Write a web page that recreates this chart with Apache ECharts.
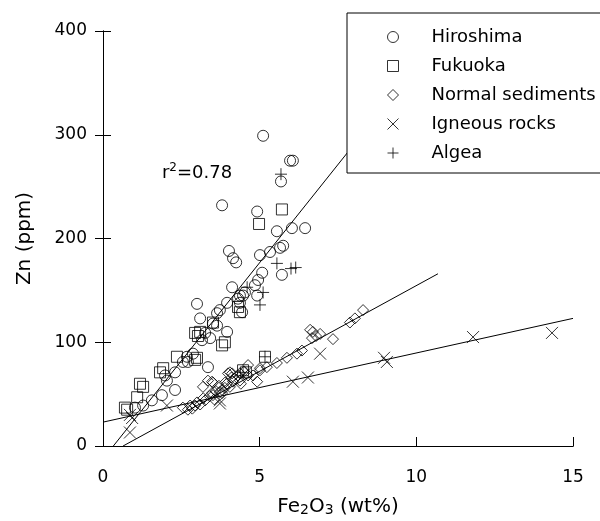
<!DOCTYPE html>
<html>
<head>
<meta charset="utf-8">
<script src="https://cdn.jsdelivr.net/npm/echarts@6/dist/echarts.min.js"></script>
<style>
  html, body { margin: 0; padding: 0; background: #fff; }
  #chart { width: 600px; height: 521px; }
</style>
</head>
<body>
<div id="chart"></div>
<script>
// Fe2O3 (wt%) vs Zn (ppm)
const hiroshima = [
  [5.11, 299], [5.97, 275], [6.06, 275], [5.68, 255], [3.80, 232], [4.92, 226],
  [5.55, 207], [6.03, 210], [6.45, 210], [5.65, 191], [5.75, 193], [4.02, 188],
  [4.15, 181], [4.25, 177], [5.01, 184], [5.33, 187], [5.71, 165], [5.08, 167],
  [4.95, 160], [4.85, 155], [4.12, 153], [4.47, 145], [4.37, 145], [4.92, 145],
  [3.00, 137], [4.53, 148], [4.31, 142], [4.37, 138], [4.44, 129], [3.96, 138],
  [3.73, 131], [3.64, 128], [3.10, 123], [3.51, 118], [3.64, 116], [3.96, 110],
  [3.26, 109], [3.16, 102], [3.42, 104], [2.68, 86], [2.87, 89], [2.55, 81],
  [2.71, 81], [3.35, 76], [2.30, 71], [1.98, 68], [2.04, 63], [2.30, 54],
  [1.88, 49], [1.56, 44], [1.28, 39], [1.02, 37]
];
const fukuoka = [
  [5.71, 228], [4.98, 214], [4.31, 134], [4.37, 129], [3.51, 119], [2.94, 109],
  [3.03, 106], [3.10, 110], [3.80, 97], [3.89, 100], [3.00, 85], [5.17, 86],
  [4.47, 73], [4.56, 71], [2.36, 86], [2.94, 83], [1.92, 75], [1.82, 71],
  [1.28, 57], [1.18, 60], [1.09, 47], [0.70, 37], [0.77, 35]
];
const normalSediments = [
  [2.71, 35], [2.94, 39], [3.26, 44], [3.48, 51], [3.35, 63], [3.51, 61],
  [3.80, 51], [4.05, 57], [3.99, 70], [2.55, 37], [2.78, 39], [3.00, 42],
  [3.19, 57], [3.48, 62], [3.51, 49], [3.73, 52], [3.89, 56], [4.05, 71],
  [4.15, 62], [4.37, 63], [4.63, 78], [4.79, 68], [4.92, 62], [5.01, 75],
  [6.19, 89], [6.35, 92], [5.87, 85], [5.55, 80], [5.23, 76], [5.01, 73],
  [4.63, 68], [4.37, 70], [4.21, 65], [4.12, 70], [3.89, 61], [3.80, 54],
  [8.30, 131], [8.04, 123], [7.88, 119], [7.34, 103], [6.70, 110], [6.61, 112],
  [6.80, 106], [6.67, 104], [6.93, 108], [2.85, 36], [3.10, 40], [3.20, 46],
  [3.40, 48], [3.55, 45], [3.60, 53], [3.70, 58], [3.95, 60], [4.10, 66],
  [4.30, 68], [4.40, 60], [4.50, 72]
];
const igneousRocks = [
  [0.86, 13], [0.86, 30], [0.93, 27], [2.04, 39], [3.73, 44], [3.73, 41],
  [6.06, 62], [6.54, 66], [6.93, 89], [8.97, 85], [9.06, 81], [11.81, 105],
  [14.33, 109]
];
const algea = [
  [5.68, 262], [5.55, 176], [6.00, 171], [6.15, 172], [4.60, 153], [5.11, 148],
  [5.01, 136], [5.17, 86], [4.47, 71]
];
// regression lines, endpoints
const fitPolluted = [[0.33, 0], [10.9, 400]];
const fitSediments = [[0.64, 0], [10.69, 166]];
const fitIgneous = [[0, 23], [15, 123]];
const r2Text = 'r2=0.78';
const r2At = [1.88, 263];

const seriesNames = ['Hiroshima', 'Fukuoka', 'Normal sediments', 'Igneous rocks', 'Algea'];
const xTicks = [0, 5, 10, 15];
const yTicks = [0, 100, 200, 300, 400];

const FONT = 'DejaVu Sans';
const crossPath = 'path://M0,0L10,10M10,0L0,10';
const plusPath = 'path://M5,0L5,10M0,5L10,5';
const hollow = { color: 'rgba(0,0,0,0)', borderColor: '#000', borderWidth: 1 };

function scatter(name, data, symbol, size) {
  return {
    name, type: 'scatter', data, symbol, symbolSize: size,
    itemStyle: hollow, silent: true, z: 3,
  };
}

function fitLine(name, data, extra) {
  return Object.assign({
    name, type: 'line', data, showSymbol: false, silent: true, z: 2,
    lineStyle: { color: '#000', width: 1 },
  }, extra || {});
}

const chart = echarts.init(document.getElementById('chart'), null, { renderer: 'canvas' });

const axisCommon = {
  axisLine: { show: true, lineStyle: { color: '#000', width: 1 } },
  splitLine: { show: false },
};

chart.setOption({
  animation: false,
  backgroundColor: '#fff',
  grid: { left: 103, right: 27, top: 31, bottom: 75, containLabel: false, outerBoundsMode: 'none' },
  xAxis: [
    Object.assign({
      type: 'value', min: xTicks[0], max: xTicks[xTicks.length - 1], interval: 5,
      name: '{a|Fe}{s|2}{a|O}{s|3}{a| (wt%)}', nameLocation: 'middle', nameGap: 51,
      nameTextStyle: {
        rich: {
          a: { fontFamily: FONT, fontSize: 20, color: '#000' },
          s: { fontFamily: FONT, fontSize: 14, color: '#000', verticalAlign: 'bottom' },
        },
      },
      axisTick: { show: true, inside: true, length: 9, lineStyle: { color: '#000' } },
      axisLabel: { color: '#000', fontFamily: FONT, fontSize: 17, margin: 23 },
    }, axisCommon),
    Object.assign({
      type: 'value', position: 'top', min: 0, max: 15, interval: 5,
      axisTick: { show: false }, axisLabel: { show: false },
    }, axisCommon),
  ],
  yAxis: [
    Object.assign({
      type: 'value', min: yTicks[0], max: yTicks[yTicks.length - 1], interval: 100,
      name: 'Zn (ppm)', nameLocation: 'middle', nameGap: 68, nameRotate: 90,
      nameTextStyle: { fontFamily: FONT, fontSize: 20, color: '#000' },
      axisTick: { show: true, inside: true, length: 8, lineStyle: { color: '#000' } },
      axisLabel: { color: '#000', fontFamily: FONT, fontSize: 17, margin: 16 },
    }, axisCommon),
    Object.assign({
      type: 'value', position: 'right', min: 0, max: 400, interval: 100,
      axisTick: { show: true, inside: true, length: 8, lineStyle: { color: '#000' } },
      axisLabel: { show: false },
    }, axisCommon),
  ],
  legend: {
    orient: 'vertical', left: 347, top: 13,
    data: seriesNames,
    selectedMode: false,
    itemWidth: 11, itemHeight: 11, itemGap: 9,
    padding: [14, 22, 10, 40],
    backgroundColor: '#fff', borderColor: '#000', borderWidth: 1, borderRadius: 0,
    itemStyle: hollow,
    textStyle: { fontFamily: FONT, fontSize: 18, color: '#000', lineHeight: 20, padding: [0, 0, 0, 28] },
  },
  series: [
    fitLine('fitPolluted', fitPolluted, {
      markPoint: {
        symbol: 'circle', symbolSize: 0, silent: true,
        data: [{ coord: r2At, value: r2Text }],
        label: {
          show: true, position: 'right', distance: 0,
          formatter: '{a|r}{s|2}{a|=0.78}',
          rich: {
            a: { fontFamily: FONT, fontSize: 18, color: '#000', lineHeight: 22 },
            s: { fontFamily: FONT, fontSize: 12, color: '#000', verticalAlign: 'top', lineHeight: 14 },
          },
        },
      },
    }),
    fitLine('fitSediments', fitSediments),
    fitLine('fitIgneous', fitIgneous),
    scatter('Hiroshima', hiroshima, 'circle', 11),
    scatter('Fukuoka', fukuoka, 'rect', 11),
    scatter('Normal sediments', normalSediments, 'diamond', 11),
    scatter('Igneous rocks', igneousRocks, crossPath, 12),
    scatter('Algea', algea, plusPath, 12),
  ],
});
</script>
</body>
</html>
